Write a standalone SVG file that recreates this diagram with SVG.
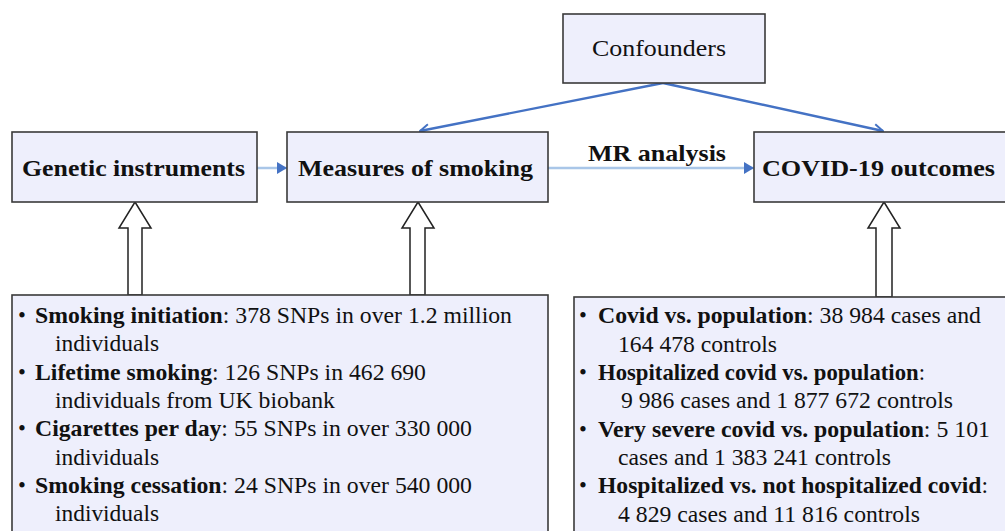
<svg xmlns="http://www.w3.org/2000/svg" width="1005" height="531" viewBox="0 0 1005 531">
<style>
.box{fill:#EEEFFC;stroke:#3a3a3a;stroke-width:1.6}
.h{font-size:23px;font-weight:bold}
.b{font-size:22.5px}
.bb{font-weight:bold}
.blk{fill:#fff;stroke:#222;stroke-width:1.5}
.cf{stroke:#4472C4;stroke-width:2.4;fill:none}
.mr{stroke:#A9C6E8;stroke-width:2.5;fill:none}
</style>
<defs>
<marker id="open" viewBox="0 0 12 12" refX="11" refY="6" markerWidth="12" markerHeight="12" markerUnits="userSpaceOnUse" orient="auto">
<path d="M2,1 L11,6 L2,11" fill="none" stroke="#4472C4" stroke-width="2"/>
</marker>
<marker id="fill" viewBox="0 0 10 12" refX="10" refY="6" markerWidth="10" markerHeight="12" markerUnits="userSpaceOnUse" orient="auto">
<path d="M0,0 L10,6 L0,12 Z" fill="#4472C4"/>
</marker>
</defs>
<rect width="1005" height="531" fill="#fff"/>
<g id="connectors">
<line class="cf" x1="663" y1="83" x2="420" y2="131" marker-end="url(#open)"/>
<line class="cf" x1="663" y1="83" x2="883" y2="131" marker-end="url(#open)"/>
<line class="mr" x1="257" y1="168" x2="287" y2="168" marker-end="url(#fill)"/>
<line class="mr" x1="548" y1="168" x2="754" y2="168" marker-end="url(#fill)"/>
<polygon class="blk" points="135,202 151,228 142,228 142,295 128,295 128,228 119,228"/>
<polygon class="blk" points="418,202 434,228 425,228 425,295 410,295 410,228 402,228"/>
<polygon class="blk" points="884,202 900,228 892,228 892,297 876,297 876,228 868,228"/>
</g>
<g font-family="'Liberation Serif', 'Times New Roman', 'DejaVu Serif', serif" fill="#111">
<g id="confounders">
<rect class="box" x="563" y="14" width="202" height="69"/>
<text x="592" y="56" font-size="23" textLength="134" lengthAdjust="spacingAndGlyphs">Confounders</text>
</g>
<g id="genetic">
<rect class="box" x="12" y="132" width="245" height="70"/>
<text class="h" x="22" y="176" textLength="223" lengthAdjust="spacingAndGlyphs">Genetic instruments</text>
</g>
<g id="measures">
<rect class="box" x="287" y="132" width="261" height="70"/>
<text class="h" x="298" y="176" textLength="235" lengthAdjust="spacingAndGlyphs">Measures of smoking</text>
</g>
<g id="mrlabel">
<text class="h" x="588" y="161" textLength="138" lengthAdjust="spacingAndGlyphs">MR analysis</text>
</g>
<g id="covid">
<rect class="box" x="754" y="132" width="270" height="70"/>
<text class="h" x="762" y="176" textLength="233" lengthAdjust="spacingAndGlyphs">COVID-19 outcomes</text>
</g>
<g id="smoking-list">
<rect class="box" x="12" y="295" width="536" height="250"/>
<g class="b">
<text x="18" y="323">•</text>
<text x="35" y="323" textLength="477" lengthAdjust="spacingAndGlyphs"><tspan class="bb">Smoking initiation</tspan>: 378 SNPs in over 1.2 million</text>
<text x="55" y="351" textLength="104" lengthAdjust="spacingAndGlyphs">individuals</text>
<text x="18" y="380">•</text>
<text x="35" y="380" textLength="391" lengthAdjust="spacingAndGlyphs"><tspan class="bb">Lifetime smoking</tspan>: 126 SNPs in 462 690</text>
<text x="55" y="408" textLength="280" lengthAdjust="spacingAndGlyphs">individuals from UK biobank</text>
<text x="18" y="436">•</text>
<text x="35" y="436" textLength="437" lengthAdjust="spacingAndGlyphs"><tspan class="bb">Cigarettes per day</tspan>: 55 SNPs in over 330 000</text>
<text x="55" y="465" textLength="104" lengthAdjust="spacingAndGlyphs">individuals</text>
<text x="18" y="493">•</text>
<text x="35" y="493" textLength="437" lengthAdjust="spacingAndGlyphs"><tspan class="bb">Smoking cessation</tspan>: 24 SNPs in over 540 000</text>
<text x="55" y="521" textLength="104" lengthAdjust="spacingAndGlyphs">individuals</text>
</g>
</g>
<g id="covid-list">
<rect class="box" x="574" y="297" width="450" height="250"/>
<g class="b">
<text x="579" y="323">•</text>
<text x="598" y="323" textLength="383" lengthAdjust="spacingAndGlyphs"><tspan class="bb">Covid vs. population</tspan>: 38 984 cases and</text>
<text x="618" y="352" textLength="159" lengthAdjust="spacingAndGlyphs">164 478 controls</text>
<text x="579" y="380">•</text>
<text x="598" y="380" textLength="327" lengthAdjust="spacingAndGlyphs"><tspan class="bb">Hospitalized covid vs. population</tspan>:</text>
<text x="621" y="408" textLength="332" lengthAdjust="spacingAndGlyphs">9 986 cases and 1 877 672 controls</text>
<text x="579" y="437">•</text>
<text x="598" y="437" textLength="392" lengthAdjust="spacingAndGlyphs"><tspan class="bb">Very severe covid vs. population</tspan>: 5 101</text>
<text x="618" y="465" textLength="273" lengthAdjust="spacingAndGlyphs">cases and 1 383 241 controls</text>
<text x="579" y="493">•</text>
<text x="598" y="493" textLength="390" lengthAdjust="spacingAndGlyphs"><tspan class="bb">Hospitalized vs. not hospitalized covid</tspan>:</text>
<text x="618" y="522" textLength="302" lengthAdjust="spacingAndGlyphs">4 829 cases and 11 816 controls</text>
</g>
</g>
</g>
</svg>
